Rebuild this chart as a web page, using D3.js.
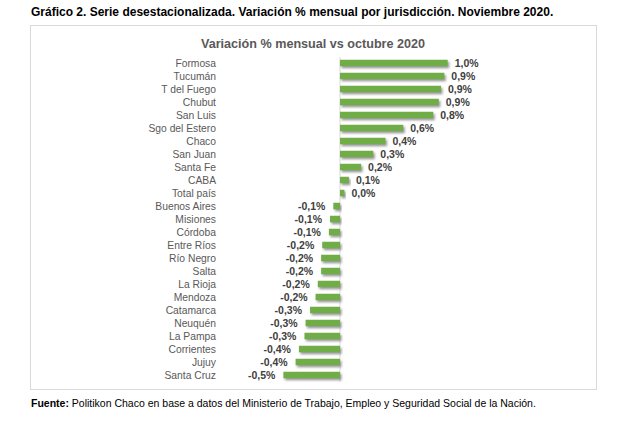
<!DOCTYPE html>
<html>
<head>
<meta charset="utf-8">
<script src="https://cdn.jsdelivr.net/npm/d3@7"></script>
<style>
  body { margin: 0; background: #fff; }
  svg { display: block; font-family: "Liberation Sans", Arial, sans-serif; }
</style>
</head>
<body>
<div id="chart"></div>
<script>
// Provinces, top to bottom, and their monthly variation (%)
const provincias = ["Formosa", "Tucumán", "T del Fuego", "Chubut", "San Luis", "Sgo del Estero",
  "Chaco", "San Juan", "Santa Fe", "CABA", "Total país", "Buenos Aires", "Misiones", "Córdoba",
  "Entre Ríos", "Río Negro", "Salta", "La Rioja", "Mendoza", "Catamarca", "Neuquén", "La Pampa",
  "Corrientes", "Jujuy", "Santa Cruz"];
const variacion = [0.97, 0.94, 0.91, 0.89, 0.84, 0.57, 0.41, 0.30, 0.19, 0.08, 0.04, -0.06, -0.09, -0.10,
  -0.16, -0.17, -0.17, -0.20, -0.22, -0.27, -0.31, -0.32, -0.37, -0.40, -0.51];

const titulo = "Gráfico 2. Serie desestacionalizada. Variación % mensual por jurisdicción. Noviembre 2020.";
const subtitulo = "Variación % mensual vs octubre 2020";
const fuente = "Politikon Chaco en base a datos del Ministerio de Trabajo, Empleo y Seguridad Social de la Nación.";

const width = 634, height = 432;
const data = provincias.map((p, i) => ({ name: p, value: variacion[i] }));

const svg = d3.select("#chart").append("svg")
  .attr("width", width)
  .attr("height", height);

const defs = svg.append("defs");
defs.append("filter").attr("id", "shadow")
  .attr("x", "-10%").attr("y", "-50%").attr("width", "130%").attr("height", "250%")
  .append("feDropShadow")
  .attr("dx", 1.5).attr("dy", 2).attr("stdDeviation", 0.8)
  .attr("flood-color", "#7f7f7f").attr("flood-opacity", 0.8);

// title above the box
svg.append("text")
  .attr("x", 31).attr("y", 16)
  .style("font-size", "12px").style("font-weight", "bold").style("fill", "#000")
  .text(titulo);

// chart box
svg.append("rect")
  .attr("x", 30.5).attr("y", 25.5).attr("width", 566).attr("height", 364)
  .style("fill", "#fff").style("stroke", "#d9d9d9");

svg.append("text")
  .attr("x", 313).attr("y", 48)
  .attr("text-anchor", "middle")
  .style("font-size", "12.6px").style("font-weight", "bold").style("fill", "#595959")
  .text(subtitulo);

const x = d3.scaleLinear().domain([-0.6, 1.1]).range([340 - 0.6 * 111, 340 + 1.1 * 111]);
const y = d3.scaleBand().domain(provincias).range([56.5, 381.5]).paddingInner(0.5).paddingOuter(0.25);

// zero line
svg.append("line")
  .attr("x1", x(0)).attr("x2", x(0))
  .attr("y1", 57).attr("y2", 382)
  .style("stroke", "#d9d9d9").style("stroke-width", 1);

// category labels
svg.selectAll(".cat")
  .data(data)
  .enter().append("text")
  .attr("class", "cat")
  .attr("x", 216)
  .attr("y", d => y(d.name) + y.bandwidth() / 2)
  .attr("dy", "0.35em")
  .attr("text-anchor", "end")
  .style("font-size", "10.3px").style("fill", "#595959")
  .text(d => d.name);

// bars
svg.selectAll(".bar")
  .data(data)
  .enter().append("rect")
  .attr("class", "bar")
  .attr("x", d => x(Math.min(0, d.value)))
  .attr("y", d => y(d.name))
  .attr("width", d => Math.abs(x(d.value) - x(0)))
  .attr("height", y.bandwidth())
  .style("fill", "#70ad47")
  .attr("filter", "url(#shadow)");

// value labels
const fmt = v => v.toFixed(1).replace(".", ",") + "%";
svg.selectAll(".val")
  .data(data)
  .enter().append("text")
  .attr("class", "val")
  .attr("x", d => d.value >= 0 ? x(d.value) + 7 : x(d.value) - 8)
  .attr("y", d => y(d.name) + y.bandwidth() / 2)
  .attr("dy", "0.35em")
  .attr("text-anchor", d => d.value >= 0 ? "start" : "end")
  .style("font-size", "10.5px").style("font-weight", "bold").style("fill", "#404040")
  .text(d => fmt(d.value));

// source line
const src = svg.append("text")
  .attr("x", 31).attr("y", 407)
  .style("font-size", "10.5px").style("fill", "#000");
src.append("tspan").style("font-weight", "bold").text("Fuente: ");
src.append("tspan").text(fuente);
</script>
</body>
</html>
